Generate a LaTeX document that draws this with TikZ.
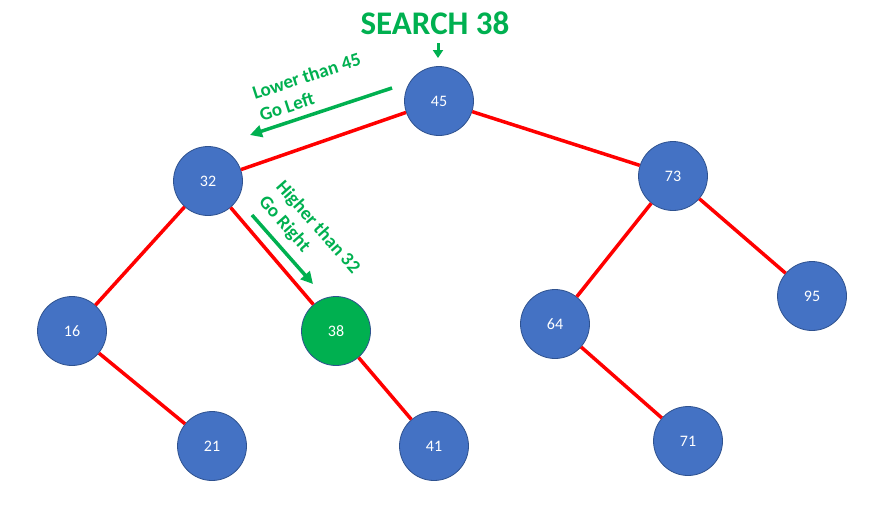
\documentclass[tikz,border=0pt]{standalone}
\usepackage{fontspec}
\setmainfont{Carlito}
\usepackage{tikz}
\usetikzlibrary{arrows.meta}

\definecolor{keyblue}{HTML}{4472C4}
\definecolor{keyborder}{HTML}{2F528F}
\definecolor{hitgreen}{HTML}{00B050}

\begin{document}
\begin{tikzpicture}[
		x=1pt, y=-1pt,
		key/.style={circle, draw=keyborder, fill=keyblue, line width=0.8pt, minimum size=69pt, inner sep=0pt, text=white, font=\fontsize{16}{18}\selectfont},
		found/.style={key, fill=hitgreen},
		link/.style={red, line width=3.5pt},
		hint/.style={hitgreen, line width=3.5pt, -{Triangle[length=12pt, width=12pt]}},
		note/.style={text=hitgreen, align=left, inner sep=0pt, font=\bfseries\fontsize{19}{23}\selectfont}
	]
  \useasboundingbox (0, 0) rectangle (890, 507);
  \node (k45) [key] at (439, 101) {45};
  \node (k32) [key] at (208, 181) {32};
  \node (k73) [key] at (673, 176) {73};
  \node (k16) [key] at (72, 331) {16};
  \node (k38) [found] at (336, 331) {38};
  \node (k64) [key] at (555, 324) {64};
  \node (k95) [key] at (812, 296) {95};
  \node (k21) [key] at (212, 446) {21};
  \node (k41) [key] at (434, 446) {41};
  \node (k71) [key] at (688, 441) {71};
  \draw (k45) edge [link] (k32);
  \draw (k45) edge [link] (k73);
  \draw (k32) edge [link] (k16);
  \draw (k32) edge [link] (k38);
  \draw (k16) edge [link] (k21);
  \draw (k38) edge [link] (k41);
  \draw (k73) edge [link] (k64);
  \draw (k73) edge [link] (k95);
  \draw (k64) edge [link] (k71);
  % search hints
  \node (title) [text=hitgreen, font=\bfseries\fontsize{33}{38}\selectfont] at (435, 23) {SEARCH 38};
  \coordinate (dropA) at (438, 43);
  \coordinate (dropB) at (438, 58);
  \draw [hitgreen, line width=3pt, -{Triangle[length=8pt, width=10pt]}] (dropA) -- (dropB);
  \coordinate (leftA) at (392, 88);
  \coordinate (leftB) at (250, 135);
  \draw [hint] (leftA) -- (leftB);
  \node (leftnote) [note, rotate=18] at (310, 87) {Lower than 45\\Go Left};
  \coordinate (rightA) at (252, 215);
  \coordinate (rightB) at (313, 284);
  \draw [hint] (rightA) -- (rightB);
  \node (rightnote) [note, rotate=-48.5] at (309, 235) {Higher than 32\\Go Right};
\end{tikzpicture}
\end{document}
